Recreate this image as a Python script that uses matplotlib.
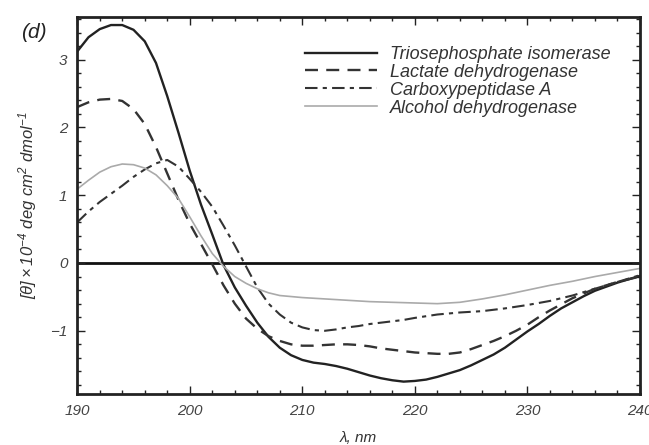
import numpy as np
import matplotlib
matplotlib.use("Agg")
import matplotlib.pyplot as plt
from matplotlib.ticker import MultipleLocator

# ----------------------------
# data
# ----------------------------
wl_tpi = [190, 191, 192, 193, 194, 195, 196, 197, 198, 199, 200, 201, 202, 203,
          204, 205, 206, 207, 208, 209, 210, 211, 212, 213, 214, 215, 216, 217,
          218, 219, 220, 221, 222, 223, 224, 225, 226, 227, 228, 229, 230, 231,
          232, 233, 234, 235, 236, 237, 238, 239, 240]
tpi = [3.12, 3.33, 3.45, 3.51, 3.51, 3.44, 3.27, 2.95, 2.46, 1.92, 1.36, 0.86,
       0.42, -0.03, -0.36, -0.63, -0.88, -1.09, -1.25, -1.36, -1.43, -1.47,
       -1.49, -1.52, -1.56, -1.61, -1.66, -1.70, -1.73, -1.75, -1.74, -1.72,
       -1.68, -1.63, -1.58, -1.51, -1.43, -1.35, -1.25, -1.13, -1.01, -0.90,
       -0.78, -0.67, -0.58, -0.49, -0.41, -0.35, -0.29, -0.24, -0.19]

wl_ldh = wl_tpi
ldh = [2.30, 2.37, 2.41, 2.42, 2.39, 2.27, 2.05, 1.71, 1.32, 0.93, 0.58, 0.28,
       -0.02, -0.33, -0.60, -0.82, -0.97, -1.08, -1.15, -1.20, -1.22, -1.22,
       -1.21, -1.20, -1.20, -1.21, -1.23, -1.26, -1.28, -1.30, -1.32, -1.33,
       -1.34, -1.34, -1.32, -1.27, -1.21, -1.15, -1.08, -1.00, -0.91, -0.80,
       -0.70, -0.61, -0.52, -0.45, -0.38, -0.33, -0.28, -0.24, -0.20]

wl_cpa = [190, 191, 192, 193, 194, 195, 196, 197, 198, 199, 200, 201, 202, 203,
          204, 205, 206, 207, 208, 209, 210, 211, 212, 213, 214, 215, 216, 217,
          218, 219, 220, 222, 224, 226, 228, 230, 232, 234, 236, 238, 240]
cpa = [0.60, 0.76, 0.90, 1.02, 1.14, 1.27, 1.38, 1.47, 1.52, 1.42, 1.24, 1.05,
       0.83, 0.55, 0.26, -0.05, -0.36, -0.60, -0.76, -0.88, -0.95, -0.99, -1.00,
       -0.98, -0.95, -0.93, -0.90, -0.88, -0.86, -0.84, -0.81, -0.76, -0.73,
       -0.71, -0.67, -0.62, -0.56, -0.48, -0.38, -0.28, -0.18]

wl_adh = [190, 191, 192, 193, 194, 195, 196, 197, 198, 199, 200, 201, 202, 203,
          204, 205, 206, 207, 208, 210, 212, 214, 216, 218, 220, 222, 224, 226,
          228, 230, 232, 234, 236, 238, 240]
adh = [1.09, 1.22, 1.34, 1.42, 1.46, 1.45, 1.40, 1.30, 1.14, 0.95, 0.68, 0.40,
       0.14, -0.05, -0.20, -0.30, -0.38, -0.44, -0.48, -0.51, -0.53, -0.55,
       -0.57, -0.58, -0.59, -0.60, -0.58, -0.53, -0.47, -0.40, -0.33, -0.27,
       -0.20, -0.14, -0.08]

names = ["Triosephosphate isomerase", "Lactate dehydrogenase",
         "Carboxypeptidase A", "Alcohol dehydrogenase"]

# ----------------------------
# style
# ----------------------------
plt.rcParams["font.family"] = ["Liberation Sans", "DejaVu Sans"]
plt.rcParams["font.style"] = "italic"
plt.rcParams["mathtext.fontset"] = "custom"
plt.rcParams["mathtext.rm"] = "Liberation Sans:italic"
plt.rcParams["mathtext.it"] = "Liberation Sans:italic"

fig = plt.figure(figsize=(6.49, 4.45), dpi=100)
ax = fig.add_axes([0.119, 0.115, 0.867, 0.847])

ax.axhline(0, color="#111111", lw=2.0, zorder=1)

ax.plot(wl_tpi, tpi, color="#222222", lw=1.7, label=names[0])
ax.plot(wl_ldh, ldh, color="#333333", lw=1.7, dashes=(5.5, 3.5), label=names[1])
ax.plot(wl_cpa, cpa, color="#333333", lw=1.5, dashes=(6, 2.5, 2, 2.5),
        label=names[2])
ax.plot(wl_adh, adh, color="#aaaaaa", lw=1.2, label=names[3])

ax.set_xlim(190, 240)
ax.set_ylim(-1.93, 3.63)
ax.xaxis.set_major_locator(MultipleLocator(10))
ax.xaxis.set_minor_locator(MultipleLocator(2))
ax.yaxis.set_major_locator(MultipleLocator(1))
ax.yaxis.set_minor_locator(MultipleLocator(0.2))
ax.tick_params(which="both", direction="in", top=True, right=True,
               colors="#222222", labelsize=11, labelcolor="#444444")
ax.tick_params(which="major", length=6, width=1.0, pad=7)
ax.tick_params(which="minor", length=3, width=1.0)
for s in ax.spines.values():
    s.set_linewidth(2.0)
    s.set_color("#222222")

ax.set_xlabel(r"λ, nm", fontsize=11, color="#333333", labelpad=10)
ax.set_ylabel(r"$[\theta]\times10^{-4}$ deg cm$^{2}$ dmol$^{-1}$",
              fontsize=12, color="#333333", labelpad=8)
fig.text(0.032, 0.915, "(d)", fontsize=15, color="#222222")

ax.legend(loc="upper left", bbox_to_anchor=(0.47, 0.897),
          bbox_transform=fig.transFigure, frameon=False, fontsize=13,
          handlelength=4.0, handletextpad=0.7, labelspacing=0.05,
          borderpad=0, borderaxespad=0, labelcolor="#333333")

fig.savefig("out.png", dpi=100)
